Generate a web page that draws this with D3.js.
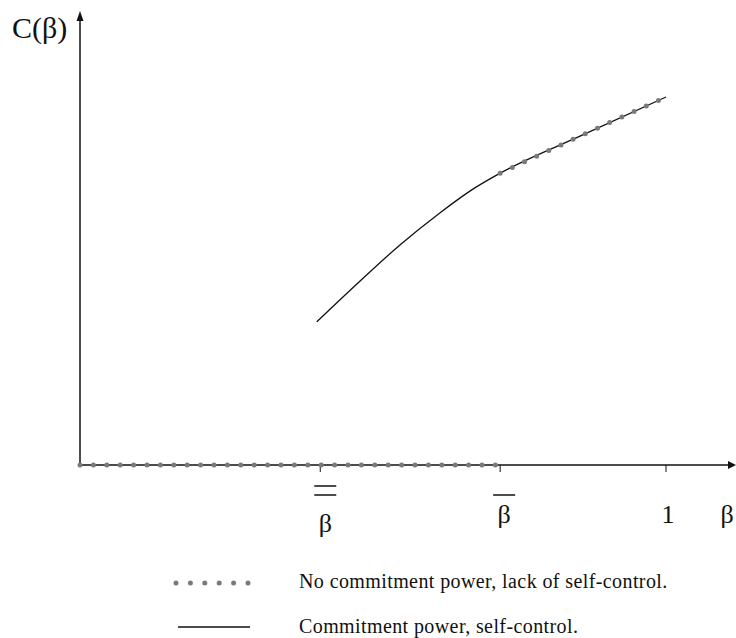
<!DOCTYPE html>
<html>
<head>
<meta charset="utf-8">
<script src="https://cdn.jsdelivr.net/npm/d3@7"></script>
<style>
  body { margin: 0; background: #fff; }
  text { font-family: "Liberation Serif", "Times New Roman", serif; fill: #111; }
</style>
</head>
<body>
<div id="root"></div>
<script>
// beta values along the horizontal axis
const betaLow = 0.41;    // double-bar beta
const betaHigh = 0.717;  // bar beta
const tickValues = [betaLow, betaHigh, 1];
const tickLabels = ["β", "β", "1"];
const tickBars = [2, 1, 0];

// C(beta) with commitment power (solid curve)
const curveBeta = [0.404, 0.478, 0.546, 0.614, 0.666, 0.717, 0.858, 1.0];
const curveC    = [0.389, 0.500, 0.598, 0.685, 0.745, 0.793, 0.897, 1.0];

// no commitment power: zero below betaHigh
const flatBeta = [0, betaHigh];
const flatC = [0, 0];

const legendLabels = ["No commitment power, lack of self-control.", "Commitment power, self-control."];

const width = 736, height = 638;

const x = d3.scaleLinear().domain([0, 1]).range([80, 666]);
const y = d3.scaleLinear().domain([0, 1]).range([465, 97]);

const svg = d3.select("#root").append("svg")
    .attr("width", width)
    .attr("height", height);

const line = d3.line()
    .x(d => x(d[0]))
    .y(d => y(d[1]))
    .curve(d3.curveMonotoneX);

const solid = curveBeta.map((b, i) => [b, curveC[i]]);
const dottedCurve = solid.filter(d => d[0] >= betaHigh);
const dottedFlat = flatBeta.map((b, i) => [b, flatC[i]]);

// axes
const x0 = x(0), y0 = y(0);
svg.append("line")
    .attr("x1", x0).attr("y1", y0).attr("x2", 731).attr("y2", y0)
    .attr("stroke", "#111").attr("stroke-width", 1.5);
svg.append("path")
    .attr("d", `M736,${y0} L728,${y0 - 4} L728,${y0 + 4} Z`)
    .attr("fill", "#111");

svg.append("line")
    .attr("x1", x0).attr("y1", y0).attr("x2", x0).attr("y2", 18)
    .attr("stroke", "#111").attr("stroke-width", 1.5);
svg.append("path")
    .attr("d", `M${x0},11 L${x0 - 3.5},21 L${x0 + 3.5},21 Z`)
    .attr("fill", "#111");

// ticks
const ticks = svg.append("g").selectAll("g")
    .data(tickValues)
    .join("g")
      .attr("transform", d => `translate(${x(d)},${y0})`);

ticks.append("line")
    .attr("y1", 0).attr("y2", 7)
    .attr("stroke", "#111").attr("stroke-width", 1);

ticks.append("text")
    .attr("x", (d, i) => i === 0 ? 5 : i === 1 ? 4 : 2)
    .attr("y", (d, i) => i === 0 ? 67 : 58)
    .attr("text-anchor", "middle")
    .attr("font-size", 26)
    .text((d, i) => tickLabels[i]);

ticks.each(function(d, i) {
  const g = d3.select(this);
  const dx = i === 0 ? 5 : 4;
  const bars = tickBars[i] === 2 ? [21, 30] : tickBars[i] === 1 ? [30] : [];
  bars.forEach(by => {
    g.append("line")
      .attr("x1", dx - 11).attr("x2", dx + 11)
      .attr("y1", by).attr("y2", by)
      .attr("stroke", "#111").attr("stroke-width", 1.5);
  });
});

// axis titles
svg.append("text")
    .attr("x", 12).attr("y", 38)
    .attr("font-size", 30)
    .text("C(β)");
svg.append("text")
    .attr("x", 727).attr("y", 523)
    .attr("text-anchor", "middle")
    .attr("font-size", 26)
    .text("β");

// series
svg.append("path")
    .attr("d", line(solid))
    .attr("fill", "none")
    .attr("stroke", "#111")
    .attr("stroke-width", 1.3);

const dotStyle = sel => sel
    .attr("fill", "none")
    .attr("stroke", "#7a7a7a")
    .attr("stroke-width", 5)
    .attr("stroke-linecap", "round")
    .attr("stroke-dasharray", "0 13.4");

svg.append("path").attr("d", line(dottedFlat)).call(dotStyle);
svg.append("path").attr("d", line(dottedCurve)).call(dotStyle);

// legend
const legend = svg.append("g");
legend.append("path")
    .attr("d", "M176,583 L248,583")
    .call(dotStyle)
    .attr("stroke-dasharray", "0 14.4");
legend.append("line")
    .attr("x1", 178).attr("x2", 250).attr("y1", 627).attr("y2", 627)
    .attr("stroke", "#111").attr("stroke-width", 1.5);
legend.selectAll("text")
    .data(legendLabels)
    .join("text")
      .attr("x", 299)
      .attr("y", (d, i) => i === 0 ? 588 : 633)
      .attr("font-size", 20)
      .attr("letter-spacing", 0.4)
      .text(d => d);
</script>
</body>
</html>
